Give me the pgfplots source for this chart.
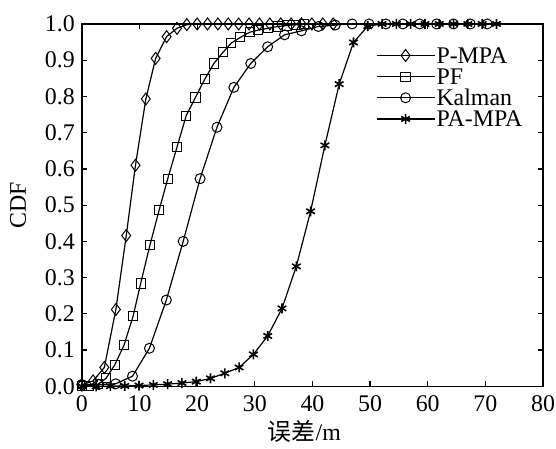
\documentclass[border=0pt]{standalone}
\usepackage{pgfplots}
\pgfplotsset{compat=1.18}
\usepackage{fontspec}
\setmainfont{Liberation Serif}
\newfontfamily\cjk{Noto Sans CJK SC}
\begin{document}
\begin{tikzpicture}
\begin{axis}[
  width=231bp, height=181.5bp, scale only axis,
  xmin=0, xmax=80, ymin=0, ymax=1,
  xtick={0,10,...,80},
  ytick={0,0.1,0.2,0.3,0.4,0.5,0.6,0.7,0.8,0.9,1.0},
  yticklabel style={/pgf/number format/.cd, fixed, fixed zerofill, precision=1},
  xticklabel style={inner sep=0pt, yshift=-4.5bp},
  /pgf/number format/assume math mode=true,
  tick label style={font=\fontsize{12}{12}\selectfont},
  label style={font=\fontsize{12}{12}\selectfont},
  tick align=inside,
  major tick length=2.5bp,
  axis line style={line width=0.7bp},
  every tick/.style={black, line width=0.6bp},
  ylabel={CDF},
  y label style={at={(axis description cs:0,0.5)}, anchor=center, yshift=32bp},
  xlabel={{\cjk 误差}/m},
  xlabel style={at={(axis description cs:0.5,0)}, anchor=center, yshift=-22.5bp, xshift=-4bp},
  legend cell align=left,
  legend style={draw=none, fill=none, at={(axis description cs:0.637,0.94)}, anchor=north west,
    font=\fontsize{12}{12}\selectfont, inner sep=0pt, row sep=1.2bp,
    nodes={inner sep=0.7bp, text height=8bp, text depth=0bp}},
  legend image code/.code={\draw[mark repeat=2,mark phase=2] plot coordinates {(0bp,0bp) (14.5bp,0bp) (29bp,0bp)};},
  every axis plot/.append style={black, line width=0.6bp},
]
\addplot[mark=diamond, mark size=3bp, mark options={line width=0.5bp, fill=white}] coordinates {
(0,0.004) (1.95,0.015) (3.9,0.052) (5.9,0.212) (7.7,0.416) (9.3,0.61) (11.1,0.793) (12.8,0.905)
(14.7,0.965) (16.5,0.988) (18.2,0.998) (20.0,1) (21.8,1) (23.6,1) (25.4,1) (27.2,1) (29.0,1)
(30.8,1) (32.6,1) (34.5,1) (36.3,1) (38.1,1) (39.9,1) (41.8,1) (43.6,1)};
\addlegendentry{P-MPA}
\addplot[mark=square, mark size=2.3bp, mark options={line width=0.5bp, fill=white}] coordinates {
(0,0) (1.3,0.002) (2.8,0.006) (4.2,0.022) (5.7,0.059) (7.3,0.113) (8.9,0.194) (10.2,0.284)
(11.8,0.389) (13.4,0.486) (14.9,0.573) (16.5,0.66) (18.1,0.747) (19.7,0.797) (21.3,0.847)
(22.9,0.891) (24.5,0.922) (25.9,0.947) (27.5,0.963) (29.1,0.977) (30.6,0.983) (32.3,0.988)
(34.0,0.993) (35.6,0.996) (37.1,0.998) (38.5,0.999)};
\addlegendentry{PF}
\addplot[mark=o, mark size=2.5bp, mark options={line width=0.5bp}] coordinates {
(0,0.005) (2.93,0.005) (5.86,0.007) (8.79,0.028) (11.72,0.105) (14.65,0.238) (17.58,0.40)
(20.51,0.573) (23.44,0.715) (26.37,0.825) (29.3,0.891) (32.23,0.937) (35.16,0.97) (38.09,0.981)
(41.02,0.993) (43.95,0.997) (46.88,1) (49.81,1) (52.74,1) (55.67,1) (58.6,1) (61.53,1)
(64.46,1) (67.39,1) (70.32,1)};
\addlegendentry{Kalman}
\addplot[mark=asterisk, mark size=2.5bp, mark options={line width=0.8bp}] coordinates {
(0,0) (2.48,0) (4.96,0.0005) (7.44,0.001) (9.92,0.002) (12.4,0.004) (14.88,0.006) (17.36,0.009)
(19.84,0.013) (22.32,0.022) (24.8,0.036) (27.28,0.052) (29.76,0.088) (32.24,0.139) (34.72,0.215)
(37.2,0.331) (39.68,0.483) (42.16,0.665) (44.64,0.834) (47.12,0.949) (49.6,0.994) (52.08,1)
(54.56,1) (57.04,1) (59.52,1) (62.0,1) (64.48,1) (66.96,1) (69.44,1) (71.92,1)};
\addlegendentry{PA-MPA}
\end{axis}
\path ([xshift=-41bp,yshift=-28bp]current axis.south west) rectangle ([xshift=6.5bp,yshift=12bp]current axis.north east);
\end{tikzpicture}
\end{document}
